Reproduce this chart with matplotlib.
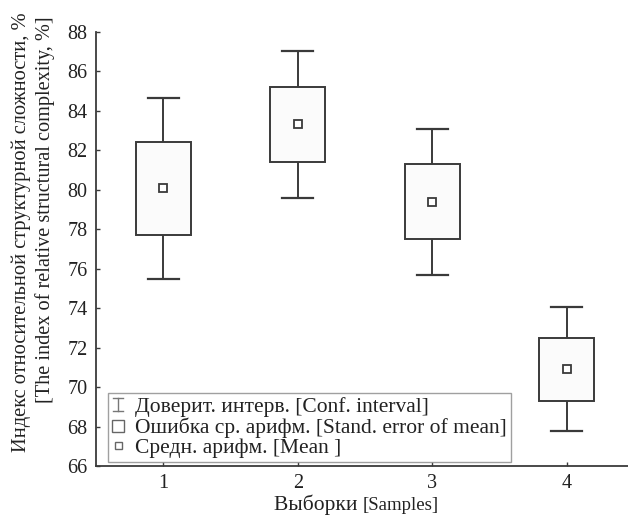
import matplotlib
matplotlib.use("Agg")
import matplotlib.pyplot as plt
from matplotlib.lines import Line2D
from matplotlib.patches import Rectangle
from matplotlib.legend_handler import HandlerBase
import numpy as np

samples = [1, 2, 3, 4]
means = [80.1, 83.35, 79.4, 70.9]
se_low = [77.7, 81.4, 77.5, 69.3]
se_high = [82.4, 85.2, 81.3, 72.5]
ci_low = [75.5, 79.6, 75.7, 67.75]
ci_high = [84.65, 87.05, 83.1, 74.05]
yticks = [66, 68, 70, 72, 74, 76, 78, 80, 82, 84, 86, 88]

ylabel_ru = "Индекс относительной структурной сложности, %"
ylabel_en = "[The index of relative structural complexity, %]"
xlabel_ru = "Выборки "
xlabel_en = "[Samples]"
legend_labels = ["Доверит. интерв. [Conf. interval]",
                 "Ошибка ср. арифм. [Stand. error of mean]",
                 "Средн. арифм. [Mean ]"]

plt.rcParams['font.family'] = ['Liberation Serif', 'DejaVu Serif']

EDGE = '#3a3a3a'
TXT = '#222222'
fig = plt.figure(figsize=(6.28, 5.17), dpi=100)
ax = fig.add_axes([96/628, 51/517, 532/628, 434/517])

box_w = 0.41
cap_w = 0.23
for x, m, sl, sh, cl, ch in zip(samples, means, se_low, se_high, ci_low, ci_high):
    ax.add_patch(Rectangle((x - box_w/2, sl), box_w, sh - sl, facecolor='#fbfbfb',
                           edgecolor=EDGE, lw=1.4, zorder=3))
    ax.plot([x, x], [sh, ch], color=EDGE, lw=1.4, zorder=2)
    ax.plot([x, x], [cl, sl], color=EDGE, lw=1.4, zorder=2)
    ax.plot([x - cap_w/2, x + cap_w/2], [ch, ch], color=EDGE, lw=1.6, zorder=2)
    ax.plot([x - cap_w/2, x + cap_w/2], [cl, cl], color=EDGE, lw=1.6, zorder=2)
    ax.plot([x], [m], marker='s', ms=5.5, mfc='white', mec=EDGE, mew=1.3,
            ls='none', zorder=4)

ax.set_xlim(0.5, 4.455)
ax.set_ylim(66, 88)
ax.set_xticks(samples)
ax.set_yticks(yticks)
ax.tick_params(direction='in', length=3, width=1, color=EDGE, labelsize=14.5,
               pad=6, labelcolor=TXT)
for s in ['top', 'right']:
    ax.spines[s].set_visible(False)
for s in ['left', 'bottom']:
    ax.spines[s].set_color(EDGE)
    ax.spines[s].set_linewidth(1.3)


class CIHandler(HandlerBase):
    def create_artists(self, legend, orig, xd, yd, w, h, fs, trans):
        cx = xd + w/2
        c = '#777777'
        y0 = yd + 0.5
        y1 = yd + h - 1
        return [Line2D([cx, cx], [y0, y1], color=c, lw=1, transform=trans),
                Line2D([cx - 3.5, cx + 3.5], [y0, y0], color=c, lw=1, transform=trans),
                Line2D([cx - 3.5, cx + 3.5], [y1, y1], color=c, lw=1, transform=trans)]


class SqHandler(HandlerBase):
    def __init__(self, size, lw):
        super().__init__()
        self.size = size
        self.lw = lw

    def create_artists(self, legend, orig, xd, yd, w, h, fs, trans):
        cx = xd + w/2
        cy = yd + h/2 - 0.5
        s = self.size
        return [Rectangle((cx - s/2, cy - s/2), s, s, facecolor='white',
                          edgecolor='#666666', lw=self.lw, transform=trans)]


h1 = Line2D([], [])
h2 = Rectangle((0, 0), 1, 1)
h3 = Line2D([], [], marker='s')
leg = ax.legend([h1, h2, h3], legend_labels, loc='lower left',
                bbox_to_anchor=(12/532, 4/434), fontsize=15.5, frameon=True,
                fancybox=False, edgecolor='#888888', handlelength=0.55,
                handletextpad=0.5, labelspacing=0.0, borderpad=0.2,
                borderaxespad=0,
                handler_map={h1: CIHandler(), h2: SqHandler(9, 1.0), h3: SqHandler(5, 1.0)})
leg.get_frame().set_linewidth(1.0)
for t in leg.get_texts():
    t.set_color(TXT)

# y label, two lines
fig.text(21/628, 1 - 232/517, ylabel_ru, rotation=90, ha='center', va='center',
         fontsize=14.8, color=TXT)
fig.text(45/628, 1 - 210/517, ylabel_en, rotation=90, ha='center', va='center',
         fontsize=14.6, color=TXT)

# x label, two parts with different sizes
fig.canvas.draw()
r = fig.canvas.get_renderer()
t1 = fig.text(0, 0, xlabel_ru, fontsize=15.5, color=TXT, va='baseline')
t2 = fig.text(0, 0, xlabel_en, fontsize=13.5, color=TXT, va='baseline')
w1 = t1.get_window_extent(r).width
w2 = t2.get_window_extent(r).width
cx = 356
x0 = cx - (w1 + w2)/2
base = 1 - 510/517
t1.set_position((x0/628, base))
t2.set_position(((x0 + w1)/628, base))

fig.savefig('out.png', dpi=100)
